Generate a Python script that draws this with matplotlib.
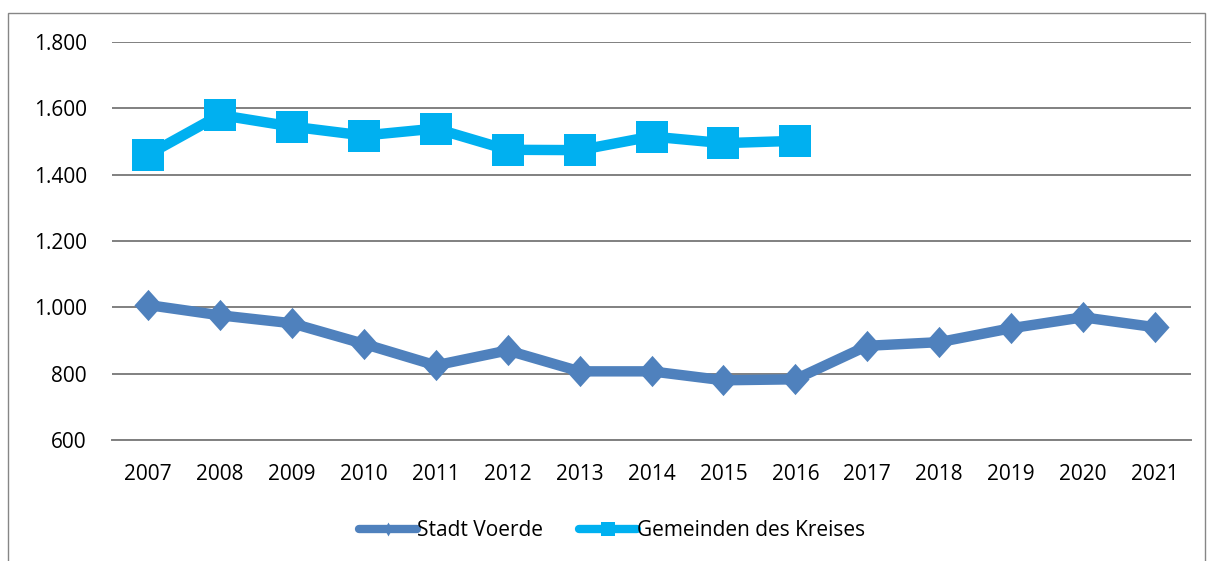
import matplotlib
matplotlib.use("Agg")
import matplotlib.pyplot as plt
from matplotlib.lines import Line2D
from matplotlib.patches import Rectangle
from matplotlib.path import Path

years = [str(y) for y in range(2007, 2022)]
stadt_voerde = [1007, 976, 952, 890, 825, 870, 807, 807, 780, 783, 884, 895, 937, 970, 940]
gemeinden = [1460, 1580, 1545, 1518, 1539, 1475, 1474, 1515, 1495, 1502]
yticks = [600, 800, 1000, 1200, 1400, 1600, 1800]
ytick_labels = ["600", "800", "1.000", "1.200", "1.400", "1.600", "1.800"]

plt.rcParams['font.family'] = ['Open Sans', 'DejaVu Sans']

W, H = 1208, 561
fig = plt.figure(figsize=(W / 100, H / 100), dpi=100)
ax = fig.add_axes([112 / W, 1 - 440 / H, (1191 - 112) / W, (440 - 42) / H])

diamond = Path([(0, 1), (0.9, 0), (0, -1), (-0.9, 0), (0, 1)],
               [Path.MOVETO, Path.LINETO, Path.LINETO, Path.LINETO, Path.CLOSEPOLY])
small_diamond = Path([(0, 1), (0.55, 0), (0, -1), (-0.55, 0), (0, 1)],
                     [Path.MOVETO, Path.LINETO, Path.LINETO, Path.LINETO, Path.CLOSEPOLY])

c1 = '#4F81BD'
c2 = '#00B0F0'
x1 = list(range(len(years)))
ax.plot(x1, stadt_voerde, color=c1, lw=7.5, marker=diamond, markersize=22.5,
        markeredgewidth=0, solid_joinstyle='round', zorder=3)
ax.plot(x1[:len(gemeinden)], gemeinden, color=c2, lw=7.5, marker='s', markersize=22.5,
        markeredgewidth=0, zorder=3)

ax.set_xlim(-0.5, len(years) - 0.5)
ax.set_ylim(600, 1800)
ax.set_yticks(yticks)
ax.set_yticklabels(ytick_labels)
ax.set_xticks(x1)
ax.set_xticklabels(years)
ax.grid(axis='y', color='#808080', lw=1.4, zorder=0)
for s in ['left', 'right', 'top']:
    ax.spines[s].set_visible(False)
ax.spines['bottom'].set_color('#808080')
ax.spines['bottom'].set_linewidth(1.4)
ax.tick_params(axis='both', length=0, labelsize=15, colors='black')
ax.tick_params(axis='y', pad=18)
ax.tick_params(axis='x', pad=17.5)

h1 = Line2D([], [], color=c1, lw=6, marker=small_diamond, markersize=10, markeredgewidth=0,
            solid_capstyle='round')
h2 = Line2D([], [], color=c2, lw=6, marker='s', markersize=9.5, markeredgewidth=0,
            solid_capstyle='round')
fig.legend([h1, h2], ['Stadt Voerde', 'Gemeinden des Kreises'], loc='center',
           bbox_to_anchor=(612 / W, 1 - 531 / H), ncol=2, frameon=False,
           fontsize=15, handlelength=2.8, handletextpad=0.0, columnspacing=1.7)

fig.patches.append(Rectangle((8 / W, -0.01), (1205 - 8) / W, 1 - 13 / H + 0.01,
                             transform=fig.transFigure, fill=False,
                             edgecolor='#868686', lw=1))

fig.savefig('out.png', dpi=100)
